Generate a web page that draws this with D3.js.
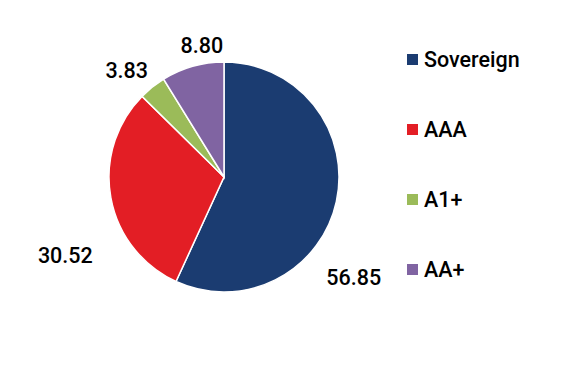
<!DOCTYPE html>
<html>
<head>
<meta charset="utf-8">
<script src="https://cdn.jsdelivr.net/npm/d3@7"></script>
<style>
  body { margin: 0; background: #fff; }
  text { font-family: Roboto, "Noto Sans", sans-serif; fill: #000; }
</style>
</head>
<body>
<script>
var categories = ["Sovereign", "AAA", "A1+", "AA+"];
var values = [56.85, 30.52, 3.83, 8.80];
var labels = ["56.85", "30.52", "3.83", "8.80"];
var colors = ["#1b3c71", "#e31e25", "#9bbb59", "#8064a2"];

// label nudges from the centroid (chart was hand-positioned)
var nudge = [[-7, 71], [-21, 53], [-10, 3], [16, 3]];

var width = 575, height = 376;
var cx = 224, cy = 177, radius = 115;

var svg = d3.select("body").append("svg")
    .attr("width", width)
    .attr("height", height);

var g = svg.append("g")
    .attr("transform", "translate(" + cx + "," + cy + ")");

var data = categories.map(function(c, i) { return {name: c, value: values[i], label: labels[i]}; });

var pie = d3.pie().sort(null).value(function(d) { return d.value; });
var arc = d3.arc().innerRadius(0).outerRadius(radius);
var labelArc = d3.arc().innerRadius(140).outerRadius(140);

var color = d3.scaleOrdinal().domain(categories).range(colors);

var arcs = pie(data);

g.selectAll("path")
    .data(arcs)
    .enter().append("path")
    .attr("d", arc)
    .attr("fill", function(d) { return color(d.data.name); })
    .attr("stroke", "#fff")
    .attr("stroke-width", 1.5);

g.selectAll("text.lbl")
    .data(arcs)
    .enter().append("text")
    .attr("class", "lbl")
    .attr("transform", function(d, i) {
      var c = labelArc.centroid(d);
      return "translate(" + (c[0] + nudge[i][0]) + "," + (c[1] + nudge[i][1]) + ")";
    })
    .attr("text-anchor", "middle")
    .attr("dy", "0.35em")
    .style("font-size", "21.5px")
    .style("font-weight", 500)
    .text(function(d) { return d.data.label; });

var legendY = d3.scalePoint().domain(categories).range([59.5, 269.5]);

var legend = svg.append("g")
    .selectAll("g")
    .data(categories)
    .enter().append("g")
    .attr("transform", function(d) { return "translate(407," + legendY(d) + ")"; });

legend.append("rect")
    .attr("x", 0)
    .attr("y", -5.5)
    .attr("width", 11)
    .attr("height", 11)
    .attr("fill", function(d) { return color(d); });

legend.append("text")
    .attr("x", 17)
    .attr("dy", "0.35em")
    .style("font-size", "21.5px")
    .style("font-weight", 500)
    .text(function(d) { return d; });
</script>
</body>
</html>
